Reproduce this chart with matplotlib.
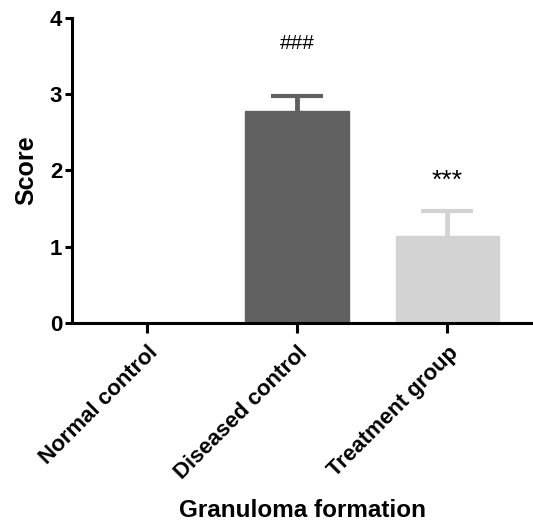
import numpy as np
import matplotlib
matplotlib.use('Agg')
from matplotlib import pyplot as plt

groups = ['Normal control', 'Diseased control', 'Treatment group']
scores = [0.0, 2.78, 1.14]
errors = [0.0, 0.20, 0.33]
marks = ['', '###', '***']
colors = ['#ffffff', '#616161', '#d3d3d3']

plt.rcParams['font.family'] = ['Liberation Sans', 'DejaVu Sans']

fig = plt.figure(figsize=(5.33, 5.25), dpi=100)
ax = fig.add_axes([0.135, 0.385, 0.865, 0.581])

x = np.arange(len(groups))
for i in range(len(groups)):
    if scores[i] <= 0:
        continue
    ax.bar(x[i], scores[i], width=0.69, color=colors[i], edgecolor=colors[i], zorder=2)
    eb = ax.errorbar(x[i], scores[i], yerr=[[0], [errors[i]]], color=colors[i],
                     elinewidth=3.5, capsize=19, capthick=3, zorder=1)
    # only the upper cap
    eb[1][0].set_visible(False)

ax.text(x[1], 3.66, marks[1], ha='center', va='center', fontsize=15)
ax.text(x[2], 1.86, marks[2], ha='center', va='center', fontsize=19)

ax.set_xlim(-0.5, 2.57)
ax.set_ylim(0, 4)
ax.set_yticks([0, 1, 2, 3, 4])
ax.set_xticks(x)
ax.set_xticklabels(groups, rotation=45, ha='right', rotation_mode='anchor',
                   fontsize=16, fontweight='bold')
for lab in ax.get_yticklabels():
    lab.set_fontsize(16)
    lab.set_fontweight('bold')

ax.set_ylabel('Score', fontsize=18, fontweight='bold', labelpad=8)
ax.set_xlabel('Granuloma formation', fontsize=17.5, fontweight='bold', labelpad=11)

ax.spines['top'].set_visible(False)
ax.spines['right'].set_visible(False)
ax.spines['left'].set_linewidth(2.2)
ax.spines['bottom'].set_linewidth(2.2)
ax.tick_params(axis='y', width=2.2, length=5, pad=2)
ax.tick_params(axis='x', width=2.2, length=7, pad=7)

fig.savefig('out.png', dpi=100)
